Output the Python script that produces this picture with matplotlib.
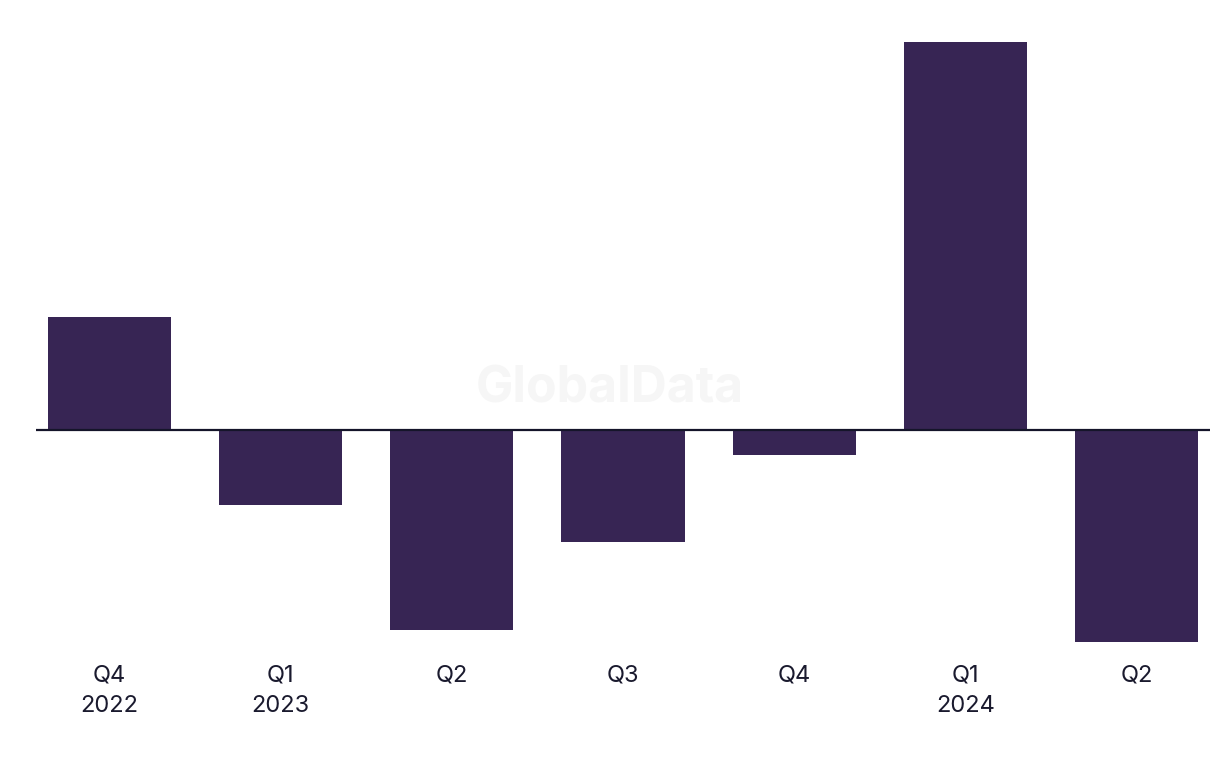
import matplotlib.pyplot as plt

quarters = ["Q4\n2022", "Q1\n2023", "Q2", "Q3", "Q4", "Q1\n2024", "Q2"]
values = [11.3, -7.5, -20.0, -11.2, -2.5, 38.8, -21.2]

plt.rcParams['font.family'] = ['Inter', 'DejaVu Sans']

fig = plt.figure(figsize=(12.2, 7.68), dpi=100)
ax = fig.add_axes([36 / 1220, 126 / 768, 1174 / 1220, 600 / 768])

x = range(len(values))
ax.bar(x, values, width=0.72, color="#372554", zorder=2)
ax.axhline(0, color="#15152a", lw=1.6, zorder=3)

ax.set_xlim(-0.43, 6.43)
ax.set_ylim(-21.2, 38.8)
ax.set_xticks(list(x))
ax.set_xticklabels(quarters, fontsize=17, color="#1a1a2e", linespacing=1.5, va="top")
ax.tick_params(axis="x", length=0, pad=16)
ax.set_yticks([])
for s in ax.spines.values():
    s.set_visible(False)

fig.text(0.5, 0.494, "GlobalData", ha="center", va="center", fontsize=36,
         fontweight="bold", color="#f6f6f6", zorder=0)

fig.savefig("out.png", dpi=100)
